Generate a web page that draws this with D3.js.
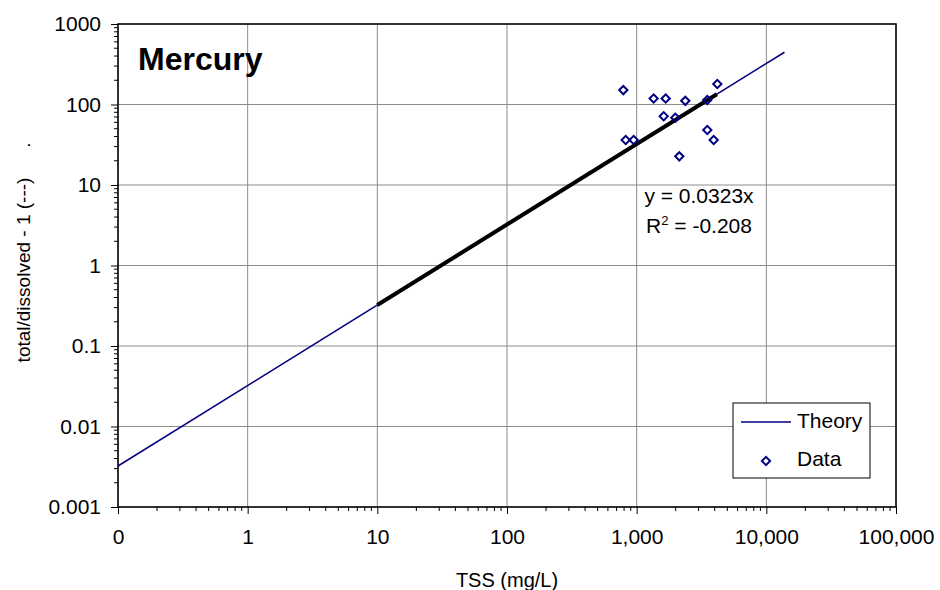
<!DOCTYPE html>
<html>
<head>
<meta charset="utf-8">
<script src="https://cdn.jsdelivr.net/npm/d3@7"></script>
<style>
  body { margin: 0; background: #fff; }
  text { font-family: "Liberation Sans", Arial, sans-serif; }
</style>
</head>
<body>
<div id="chart"></div>
<script>
var svgWidth = 940;
var svgHeight = 590;

var margin = { top: 24, bottom: 83, right: 44, left: 118 };
var width = svgWidth - margin.left - margin.right;
var height = svgHeight - margin.top - margin.bottom;

// data
var xTicks = [0.1, 1, 10, 100, 1000, 10000, 100000];
var xTickLabels = ["0", "1", "10", "100", "1,000", "10,000", "100,000"];
var yTicks = [0.001, 0.01, 0.1, 1, 10, 100, 1000];
var yTickLabels = ["0.001", "0.01", "0.1", "1", "10", "100", "1000"];

var slope = 0.0323;
var theoryX = [0.1, 13800];
var trendX = [10, 4150];

var dataTSS = [789, 1352, 1675, 2371, 3506, 4188, 1616, 1986, 823, 948, 3506, 3926, 2132];
var dataRatio = [151, 119, 119, 111, 114, 180, 71.3, 68.6, 36.2, 36.2, 48.2, 36.2, 22.7];

var svg = d3.select("#chart").append("svg")
  .attr("width", svgWidth)
  .attr("height", svgHeight);

var chartGroup = svg.append("g")
  .attr("transform", `translate(${margin.left}, ${margin.top})`);

var x = d3.scaleLog().domain([0.1, 100000]).range([0, width]);
var y = d3.scaleLog().domain([0.001, 1000]).range([height, 0]);

// gridlines
chartGroup.append("g")
  .selectAll("line")
  .data(xTicks)
  .enter()
  .append("line")
  .attr("x1", d => x(d)).attr("x2", d => x(d))
  .attr("y1", 0).attr("y2", height)
  .attr("stroke", "#8c8c8c").attr("stroke-width", 1);

chartGroup.append("g")
  .selectAll("line")
  .data(yTicks)
  .enter()
  .append("line")
  .attr("y1", d => y(d)).attr("y2", d => y(d))
  .attr("x1", 0).attr("x2", width)
  .attr("stroke", "#8c8c8c").attr("stroke-width", 1);

// minor ticks
var minorX = [];
var minorY = [];
xTicks.slice(0, -1).forEach(function(t) {
  for (var k = 2; k < 10; k++) minorX.push(t * k);
});
yTicks.slice(0, -1).forEach(function(t) {
  for (var k = 2; k < 10; k++) minorY.push(t * k);
});

chartGroup.append("g")
  .selectAll("line")
  .data(minorX)
  .enter()
  .append("line")
  .attr("x1", d => x(d)).attr("x2", d => x(d))
  .attr("y1", height).attr("y2", height + 4)
  .attr("stroke", "#000");

chartGroup.append("g")
  .selectAll("line")
  .data(minorY)
  .enter()
  .append("line")
  .attr("y1", d => y(d)).attr("y2", d => y(d))
  .attr("x1", -4).attr("x2", 0)
  .attr("stroke", "#000");

// major ticks + labels
var xAxis = d3.axisBottom(x)
  .tickValues(xTicks)
  .tickFormat((d, i) => xTickLabels[i])
  .tickSize(7)
  .tickPadding(15);
var xg = chartGroup.append("g")
  .attr("transform", `translate(0, ${height})`)
  .call(xAxis);
xg.select(".domain").remove();
xg.selectAll("text").style("font-size", "21px").attr("fill", "#000")
  .style("font-family", "'Liberation Sans', Arial, sans-serif");

var yAxis = d3.axisLeft(y)
  .tickValues(yTicks)
  .tickFormat((d, i) => yTickLabels[i])
  .tickSize(7)
  .tickPadding(10);
var yg = chartGroup.append("g").call(yAxis);
yg.select(".domain").remove();
yg.selectAll("text").style("font-size", "21px").attr("fill", "#000")
  .style("font-family", "'Liberation Sans', Arial, sans-serif");

// frame
chartGroup.append("rect")
  .attr("x", 0).attr("y", 0)
  .attr("width", width).attr("height", height)
  .attr("fill", "none")
  .attr("stroke", "#000")
  .attr("stroke-width", 1.5);

// theory line
var line = d3.line()
  .x(d => x(d))
  .y(d => y(slope * d));

chartGroup.append("path")
  .datum(theoryX)
  .attr("d", line)
  .attr("fill", "none")
  .attr("stroke", "#000080")
  .attr("stroke-width", 1.5);

// trendline
chartGroup.append("path")
  .datum(trendX)
  .attr("d", line)
  .attr("fill", "none")
  .attr("stroke", "#000")
  .attr("stroke-width", 4);

// data diamonds
var diamond = d3.symbol().type(d3.symbolSquare).size(34);
chartGroup.append("g")
  .selectAll("path")
  .data(dataTSS)
  .enter()
  .append("path")
  .attr("d", diamond)
  .attr("transform", (d, i) => `translate(${x(d)}, ${y(dataRatio[i])}) rotate(45)`)
  .attr("fill", "none")
  .attr("stroke", "#000080")
  .attr("stroke-width", 2);

// title
chartGroup.append("text")
  .attr("x", 20).attr("y", 46)
  .style("font-size", "32px")
  .style("font-weight", "bold")
  .text("Mercury");

// equation
chartGroup.append("text")
  .attr("x", 581).attr("y", 179)
  .style("font-size", "21px")
  .attr("text-anchor", "middle")
  .text("y = 0.0323x");

var r2 = chartGroup.append("text")
  .attr("x", 581).attr("y", 209)
  .style("font-size", "21px")
  .attr("text-anchor", "middle");
r2.append("tspan").text("R");
r2.append("tspan").attr("dy", -8).style("font-size", "13px").text("2");
r2.append("tspan").attr("dy", 8).text(" = -0.208");

// legend
var legend = chartGroup.append("g")
  .attr("transform", `translate(${733 - margin.left}, ${403 - margin.top})`);
legend.append("rect")
  .attr("width", 137).attr("height", 75)
  .attr("fill", "#fff")
  .attr("stroke", "#000");
legend.append("line")
  .attr("x1", 8).attr("x2", 58)
  .attr("y1", 19).attr("y2", 19)
  .attr("stroke", "#000080").attr("stroke-width", 1.5);
legend.append("text")
  .attr("x", 64).attr("y", 25)
  .style("font-size", "21px")
  .text("Theory");
legend.append("path")
  .attr("d", diamond)
  .attr("transform", "translate(33, 58) rotate(45)")
  .attr("fill", "none")
  .attr("stroke", "#000080")
  .attr("stroke-width", 2);
legend.append("text")
  .attr("x", 64).attr("y", 63)
  .style("font-size", "21px")
  .text("Data");

// axis titles
svg.append("text")
  .attr("x", margin.left + width / 2)
  .attr("y", 587)
  .attr("text-anchor", "middle")
  .style("font-size", "20px")
  .text("TSS (mg/L)");

svg.append("text")
  .attr("transform", "translate(30, 270) rotate(-90)")
  .attr("text-anchor", "middle")
  .style("font-size", "19px")
  .text("total/dissolved - 1 (---)");

svg.append("text")
  .attr("transform", "translate(30, 145) rotate(-90)")
  .attr("text-anchor", "middle")
  .style("font-size", "19px")
  .text(".");
</script>
</body>
</html>
